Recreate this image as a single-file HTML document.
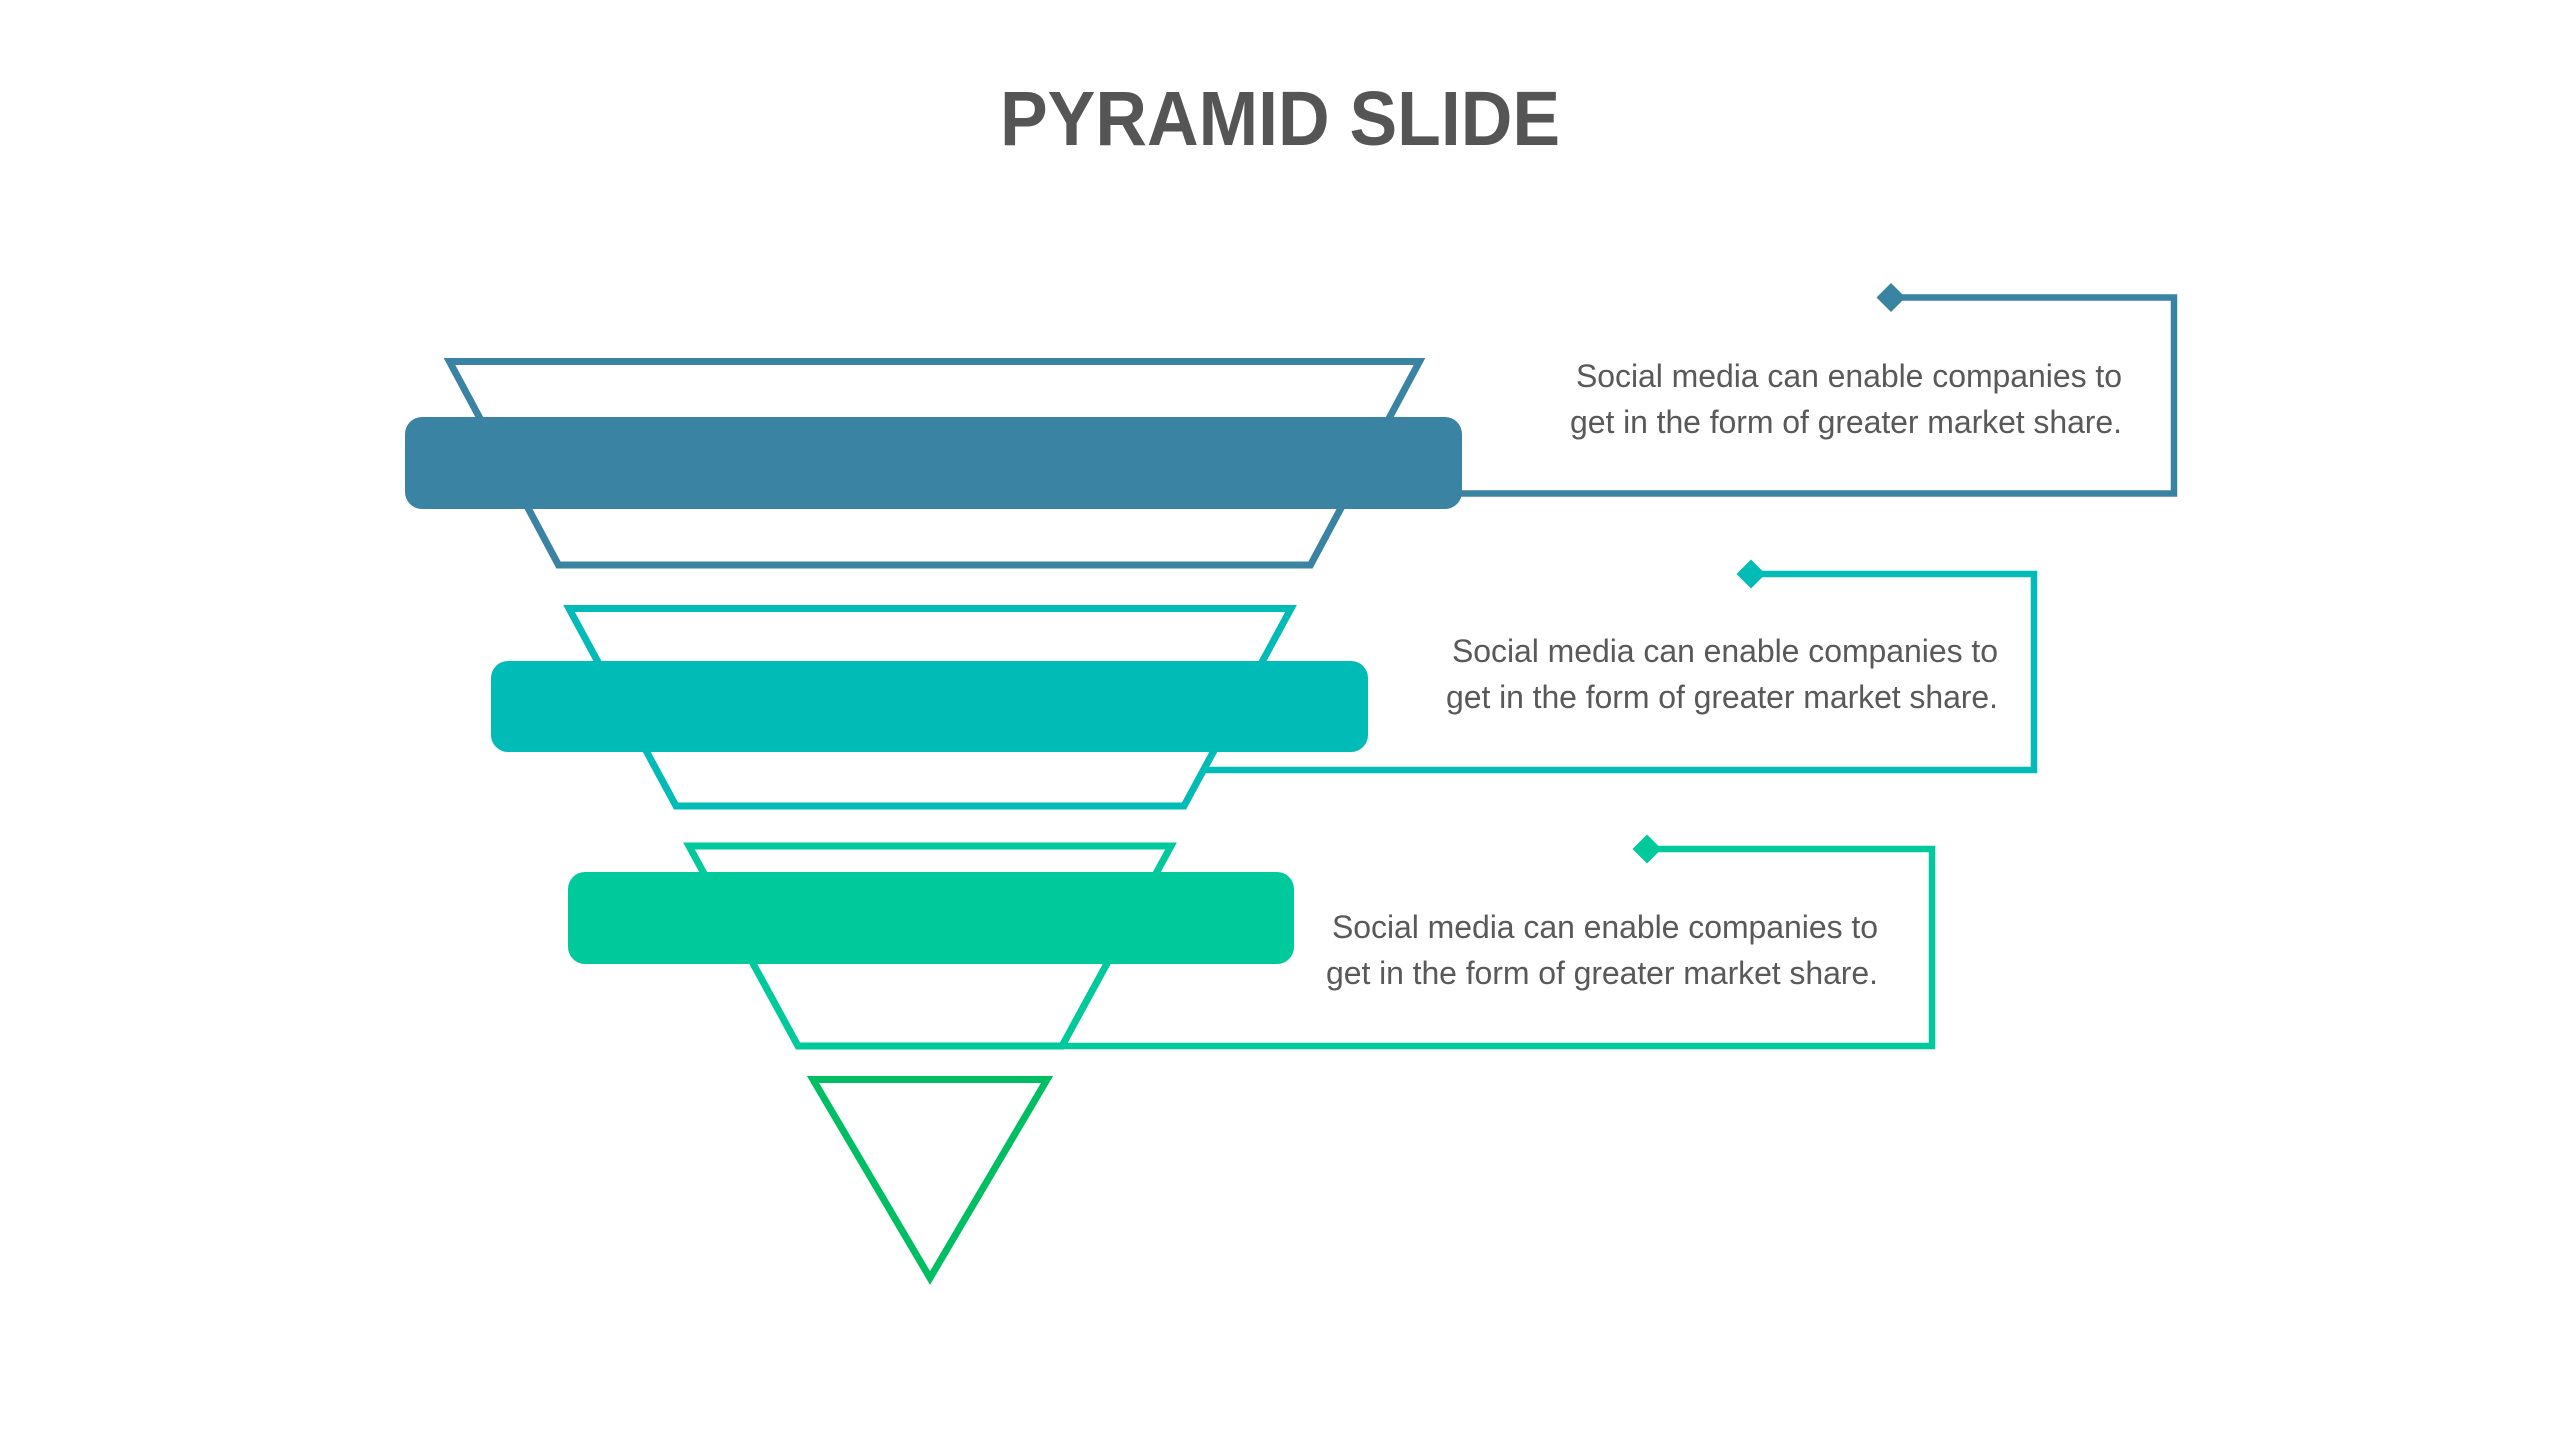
<!DOCTYPE html>
<html>
<head>
<meta charset="utf-8">
<style>
  html, body { margin: 0; padding: 0; background: #ffffff; }
  body { width: 2559px; height: 1440px; overflow: hidden; }
  svg { display: block; }
  .t { font-family: "Liberation Sans", Arial, sans-serif; font-size: 32px; fill: #595959; }
</style>
</head>
<body>
<svg width="2559" height="1440" viewBox="0 0 2559 1440" xmlns="http://www.w3.org/2000/svg">
  <rect x="0" y="0" width="2559" height="1440" fill="#ffffff"/>

  <!-- Title -->
  <text x="1000" y="145" textLength="560" lengthAdjust="spacingAndGlyphs" font-family="'Liberation Sans', Arial, sans-serif" font-weight="bold" font-size="77" fill="#555555">PYRAMID SLIDE</text>

  <!-- Trapezoids / triangle outlines -->
  <polygon points="449.5,361.5 1419.5,361.5 1310.5,565 558.5,565" fill="none" stroke="#3a83a2" stroke-width="7" stroke-linejoin="miter" stroke-miterlimit="10"/>
  <polygon points="569,608.5 1291,608.5 1184,806 676,806" fill="none" stroke="#00bbb6" stroke-width="7" stroke-linejoin="miter" stroke-miterlimit="10"/>
  <polygon points="689,846 1171,846 1062,1046 798,1046" fill="none" stroke="#00c99b" stroke-width="7" stroke-linejoin="miter" stroke-miterlimit="10"/>
  <polygon points="813,1079.5 1047,1079.5 930,1278" fill="none" stroke="#00bf62" stroke-width="7" stroke-linejoin="miter" stroke-miterlimit="10"/>

  <!-- Connectors -->
  <path d="M1460 493.5 H2174 V297.5 H1891" fill="none" stroke="#3a83a2" stroke-width="6.5" stroke-linejoin="miter"/>
  <polygon points="1891,283 1905.5,297.5 1891,312 1876.5,297.5" fill="#3a83a2"/>

  <path d="M1205 770 H2034 V574 H1751" fill="none" stroke="#00bbb6" stroke-width="6.5" stroke-linejoin="miter"/>
  <polygon points="1751,559.5 1765.5,574 1751,588.5 1736.5,574" fill="#00bbb6"/>

  <path d="M1062 1046 H1932 V849 H1647" fill="none" stroke="#00c99b" stroke-width="6.5" stroke-linejoin="miter"/>
  <polygon points="1647,834.5 1661.5,849 1647,863.5 1632.5,849" fill="#00c99b"/>

  <!-- Filled bars -->
  <rect x="405" y="417" width="1057" height="92" rx="17" ry="17" fill="#3a83a2"/>
  <rect x="491" y="661" width="877" height="91" rx="17" ry="17" fill="#00bbb6"/>
  <rect x="568" y="872" width="726" height="92" rx="17" ry="17" fill="#00c99b"/>

  <!-- Texts -->
  <text class="t" x="1576" y="387" textLength="546" lengthAdjust="spacing">Social media can enable companies to</text>
  <text class="t" x="1570" y="433" textLength="552" lengthAdjust="spacing">get in the form of greater market share.</text>

  <text class="t" x="1452" y="662" textLength="546" lengthAdjust="spacing">Social media can enable companies to</text>
  <text class="t" x="1446" y="708" textLength="552" lengthAdjust="spacing">get in the form of greater market share.</text>

  <text class="t" x="1332" y="938" textLength="546" lengthAdjust="spacing">Social media can enable companies to</text>
  <text class="t" x="1326" y="984" textLength="552" lengthAdjust="spacing">get in the form of greater market share.</text>
</svg>
</body>
</html>
